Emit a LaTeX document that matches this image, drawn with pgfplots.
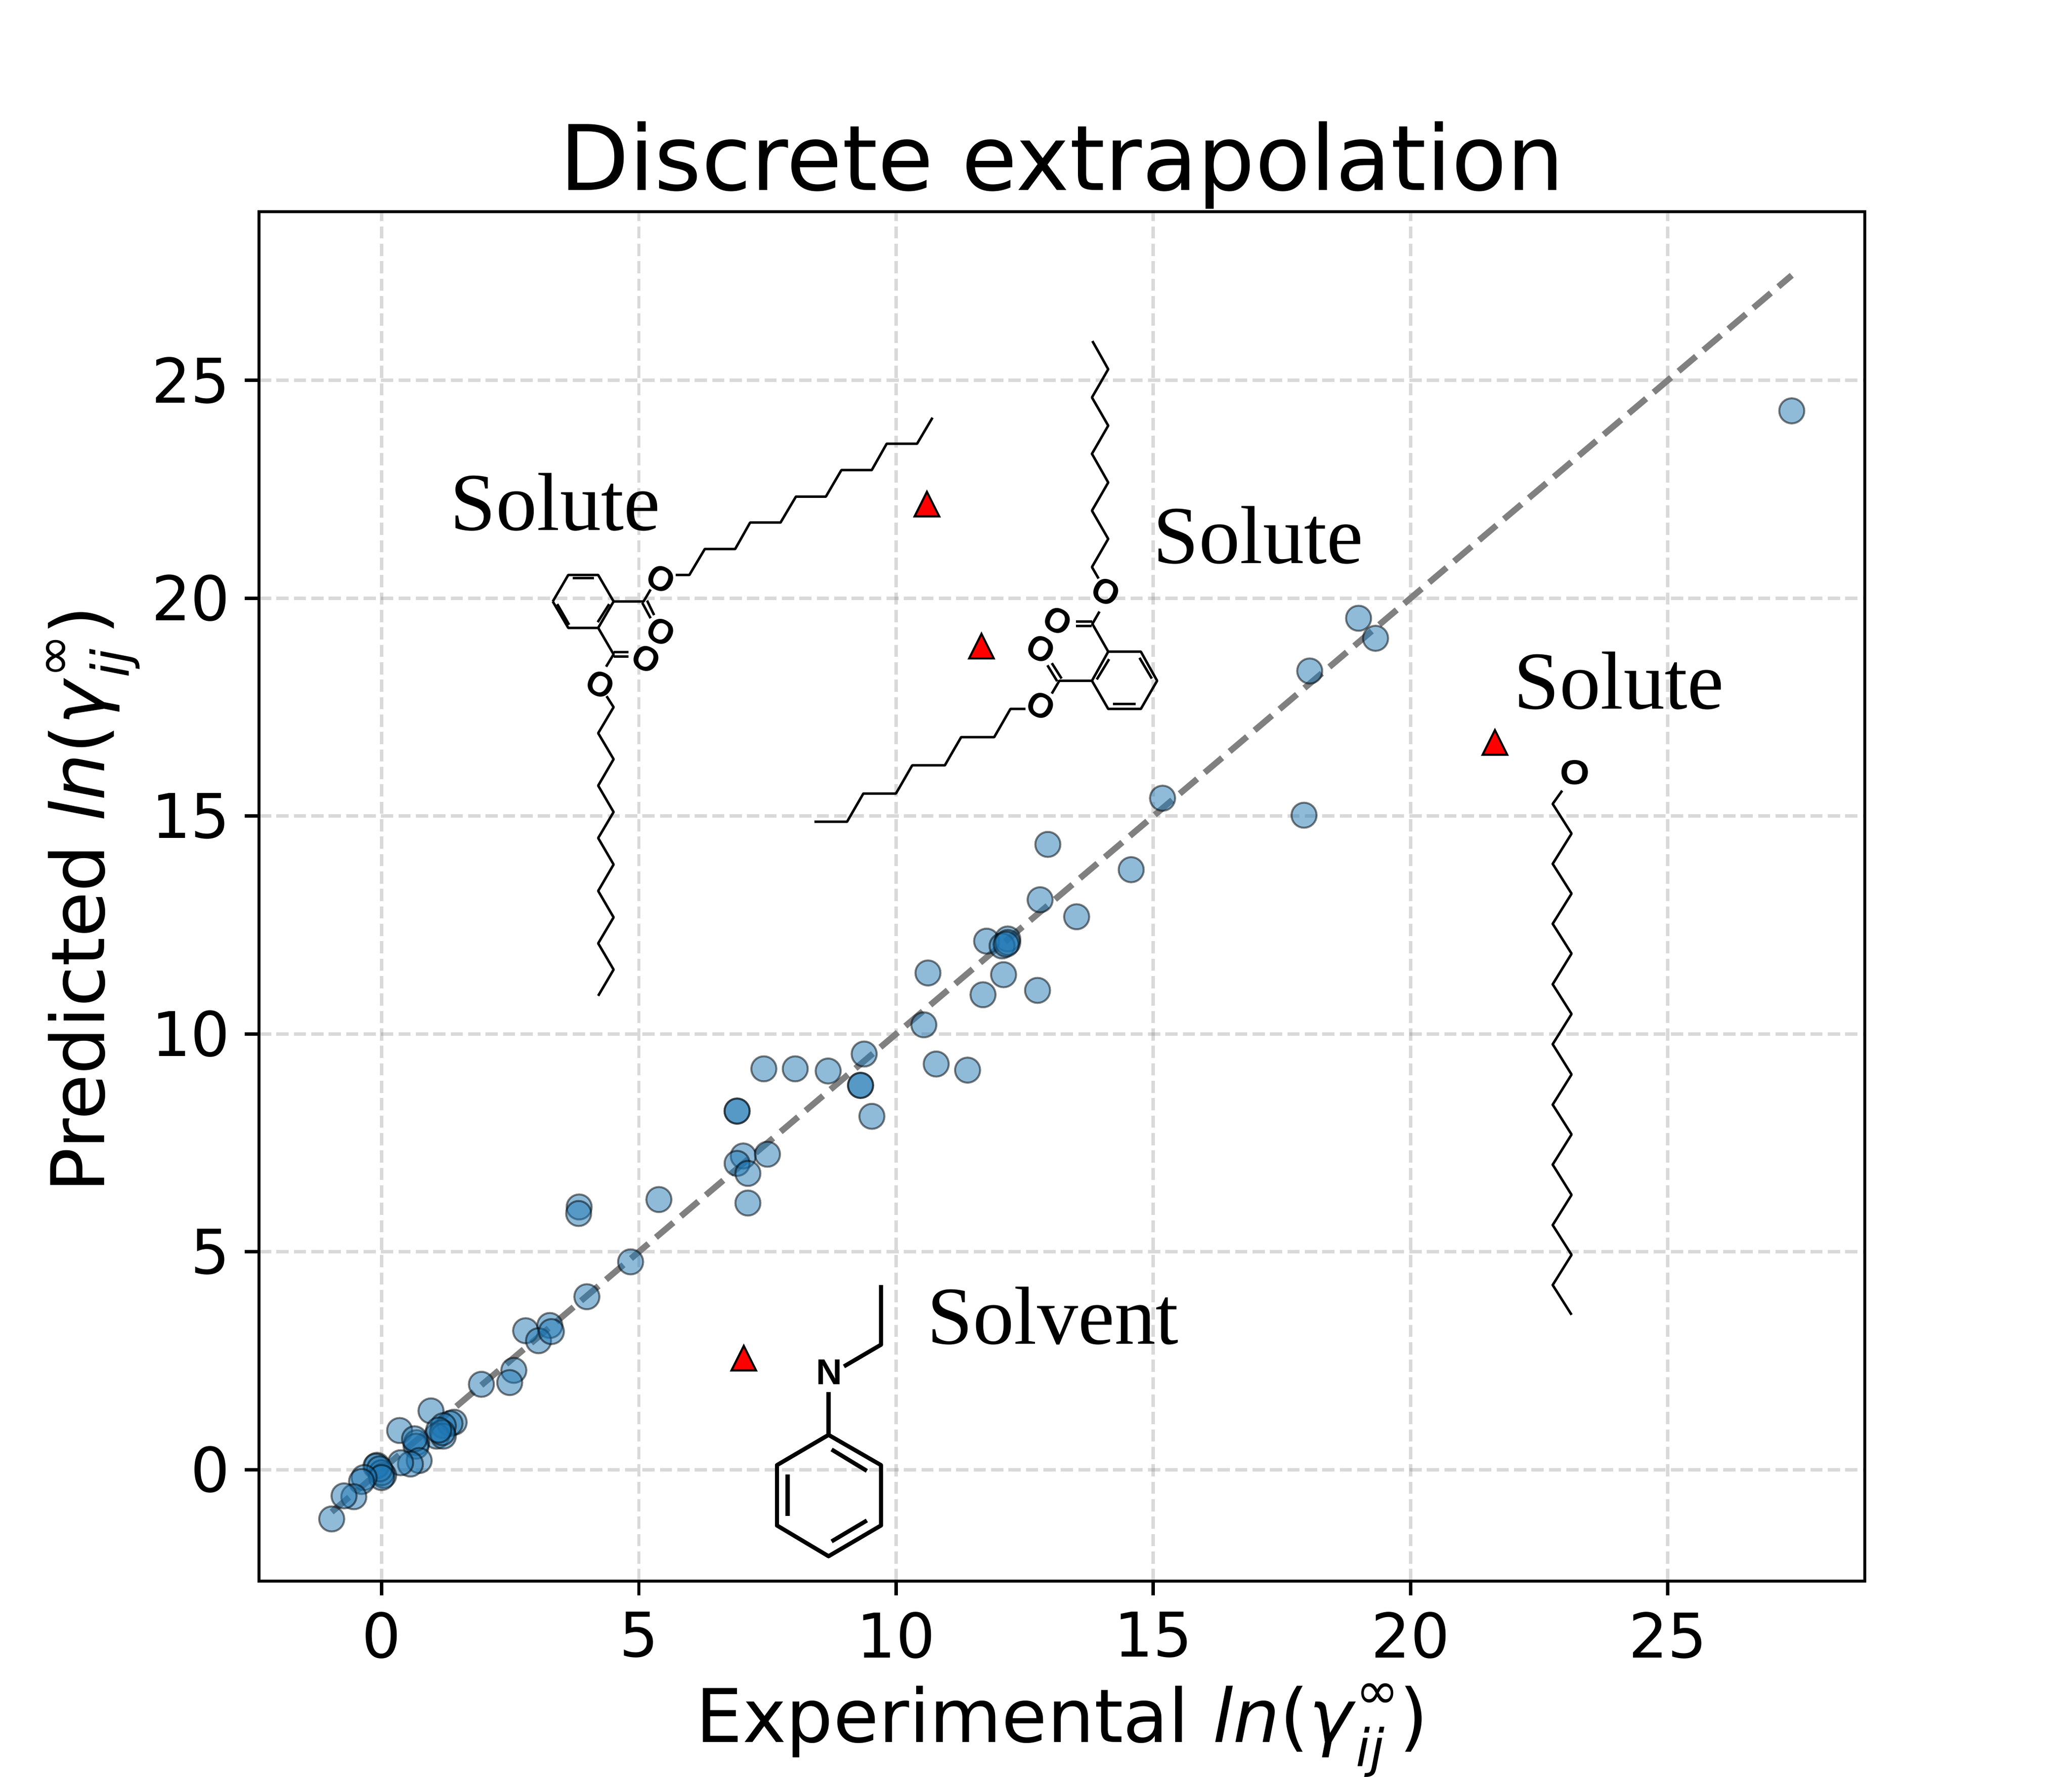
\documentclass[border=0pt]{standalone}
\usepackage{graphicx}
\usepackage{fontspec}
\setmainfont{DejaVu Sans}
\newfontfamily\timesf{Liberation Serif}
\newfontfamily\arialf{Liberation Sans}
\usepackage{pgfplots}
\pgfplotsset{compat=1.18}

\definecolor{tabblue}{HTML}{1F77B4}

% matplotlib's ^ marker: as wide as it is tall
\pgfdeclareplotmark{mpltri}{%
  \pgfpathmoveto{\pgfqpoint{0pt}{\pgfplotmarksize}}%
  \pgfpathlineto{\pgfqpoint{-\pgfplotmarksize}{-\pgfplotmarksize}}%
  \pgfpathlineto{\pgfqpoint{\pgfplotmarksize}{-\pgfplotmarksize}}%
  \pgfpathclose
  \pgfusepathqfillstroke}

\newcommand{\lngamma}{\textit{ln}(\textit{γ}\hbox to 0pt{\raisebox{-.33em}{\scalebox{.7}{\textit{ij}}}\hss}\raisebox{.45em}{\scalebox{.7}{∞}})}

\tikzset{
  mol/.style={black, line width=.6pt, line join=round},
  solv/.style={black, line width=1pt, line join=round},
  atom/.style={font=\fontsize{8.4}{8}\selectfont\arialf\bfseries, inner sep=0pt, rotate=-28},
  word/.style={font=\fontsize{20}{20}\selectfont\timesf, inner sep=0pt, anchor=base west},
}

\begin{document}
\begin{tikzpicture}
\useasboundingbox (0,0) rectangle (504pt,432pt);

\begin{axis}[
    at={(63pt,47.52pt)}, anchor=south west,
    scale only axis, width=390.6pt, height=333pt,
    xmin=-2.383, xmax=28.83, ymin=-2.556, ymax=28.87,
    xtick={0,5,...,25}, ytick={0,5,...,25},
    xtick pos=bottom, ytick pos=left,
    tick align=outside, major tick length=3.5pt,
    tick style={black, line width=.8pt},
    axis line style={line width=.8pt},
    grid=major,
    grid style={gray, opacity=.3, line width=.8pt, dash pattern=on 2.96pt off 1.28pt},
    /pgf/number format/assume math mode=true,
    tick label style={font=\fontsize{15}{15}\selectfont},
    xticklabel style={yshift=-.5pt},
    title={Discrete extrapolation},
    title style={font=\fontsize{22}{22}\selectfont, at={(axis description cs:.5,1.0155)}, anchor=base, yshift=-6pt},
    xlabel={Experimental \lngamma},
    xlabel style={font=\fontsize{18}{18}\selectfont, at={(axis description cs:.5,-.1175)}, anchor=base},
    ylabel={Predicted \lngamma},
    ylabel style={font=\fontsize{18}{18}\selectfont, at={(axis description cs:-.0962,.498)}, anchor=base},
]
% data points
\addplot[only marks, mark=*, mark size=3.05pt,
    mark options={fill=tabblue, draw=black, line width=.48pt, opacity=.5}]
coordinates {
 (27.41,24.30) (19.32,19.08) (18.99,19.54) (18.04,18.33) (17.93,15.02)
 (15.18,15.41) (14.57,13.77) (12.95,14.35) (13.51,12.69) (12.80,13.08)
 (11.76,12.13) (12.17,12.18) (12.06,12.02) (12.17,12.10) (12.14,12.06)
 (10.62,11.40) (12.09,11.36) (11.69,10.90) (12.75,11.00) (10.54,10.21)
 (9.38,9.54) (7.43,9.20) (8.04,9.20) (8.68,9.15) (10.78,9.31) (11.39,9.17)
 (9.31,8.82) (9.31,8.82) (9.53,8.11) (6.91,8.23) (6.91,8.23)
 (7.03,7.20) (7.50,7.24) (6.91,7.03) (7.12,6.80) (7.12,6.12)
 (3.84,6.03) (3.83,5.88) (5.39,6.20) (4.84,4.77) (3.99,3.97)
 (2.80,3.19) (3.27,3.31) (3.05,2.96) (3.30,3.17)
 (1.94,1.96) (2.57,2.28) (2.49,2.00)
 (0.96,1.35) (0.35,0.90) (1.41,1.09) (1.33,1.06) (1.20,1.01)
 (1.07,0.77) (1.20,0.77) (1.18,0.85) (1.11,0.91)
 (0.68,0.62) (0.67,0.54) (0.64,0.71) (0.73,0.21) (0.56,0.13) (0.37,0.16)
 (-0.09,0.10) (-0.11,0.08) (0.04,-0.13) (0.00,-0.07) (-0.04,0.02) (0.00,-0.18)
 (-0.34,-0.18) (-0.39,-0.27) (-0.54,-0.62) (-0.73,-0.60) (-0.97,-1.13)
};
% parity line
\addplot[gray, line width=1.5pt, dash pattern=on 5.55pt off 2.4pt] coordinates {(-0.97,-0.97) (27.41,27.41)};
% the four annotated outliers
\addplot[only marks, mark=mpltri, mark size=3pt,
    mark options={fill=red, draw=black, line width=.5pt}]
coordinates {(10.60,22.16) (11.66,18.90) (21.64,16.69) (7.04,2.56)};
\end{axis}

% molecule sketches, in pixels of the 4200x3600 figure
\begin{axis}[
    at={(63pt,47.52pt)}, anchor=south west,
    scale only axis, width=390.6pt, height=333pt,
    xmin=525, xmax=3780, ymin=429, ymax=3204, y dir=reverse,
    hide axis, clip=false,
]
% solute, upper left
\addplot[mol] coordinates {(1369.6,1165.2) (1397.3,1165.2) (1428.6,1112.5) (1490.2,1112.5) (1520.5,1058.9) (1582.1,1058.9) (1613.4,1006.3) (1674.1,1006.3) (1705.4,952.7) (1767,952.7) (1797.3,899.1) (1858.9,899.1) (1890.2,846.4)};
\addplot[mol] coordinates {(1120.5,1218.8) (1151.8,1165.2) (1212.5,1165.2) (1243.8,1218.8) (1212.5,1272.3) (1151.8,1272.3) (1120.5,1218.8)};
\addplot[mol] coordinates {(1160.7,1171.4) (1203.6,1171.4)};
\addplot[mol] coordinates {(1129.5,1224.1) (1153.6,1266)};
\addplot[mol] coordinates {(1234.8,1224.1) (1211.6,1260.7)};
\addplot[mol] coordinates {(1243.8,1218.8) (1304.5,1218.8) (1318.8,1194.6)};
\addplot[mol] coordinates {(1301.8,1221.4) (1318.8,1252.7)};
\addplot[mol] coordinates {(1311.6,1217) (1325.9,1246.4)};
\addplot[mol] coordinates {(1212.5,1272.3) (1243.8,1325.9) (1228.6,1350.9)};
\addplot[mol] coordinates {(1243.8,1321.4) (1274.1,1321.4)};
\addplot[mol] coordinates {(1243.8,1330.4) (1274.1,1330.4)};
\addplot[mol] coordinates {(1229.5,1410.7) (1243.8,1433) (1212.5,1485.7) (1243.8,1538.4) (1212.5,1592) (1243.8,1645.5) (1212.5,1698.2) (1243.8,1751.8) (1212.5,1805.4) (1243.8,1858.9) (1212.5,1911.6) (1243.8,1964.8) (1212.5,2017.9)};
\node[atom] at (axis cs:1340.2,1173.2) {O};
\node[atom] at (axis cs:1340.2,1280.4) {O};
\node[atom] at (axis cs:1309.8,1334.8) {O};
\node[atom] at (axis cs:1217,1386.6) {O};
\node[word] at (axis cs:911,1074) {Solute};

% solute, middle
\addplot[mol] coordinates {(2214.3,691.1) (2246.4,748.2) (2213.4,805.4) (2246.4,862.5) (2213.4,919.6) (2246.4,977.7) (2213.4,1034.8) (2246.4,1092) (2213.4,1149.1) (2226.8,1172.3)};
\addplot[mol] coordinates {(2228.6,1239.3) (2214.3,1264.3) (2246.4,1320.5)};
\addplot[mol] coordinates {(2181.3,1259.8) (2214.3,1259.8)};
\addplot[mol] coordinates {(2181.3,1268.8) (2212.5,1268.8)};
\addplot[mol] coordinates {(2246.4,1320.5) (2312.5,1320.5) (2345.5,1379.5) (2312.5,1436.6) (2246.4,1436.6) (2213.4,1379.5) (2246.4,1320.5)};
\addplot[mol] coordinates {(2309.8,1333) (2334.8,1375)};
\addplot[mol] coordinates {(2256.3,1426.8) (2301.8,1426.8)};
\addplot[mol] coordinates {(2223.2,1376.8) (2248.2,1335.7)};
\addplot[mol] coordinates {(2213.4,1379.5) (2147.3,1379.5) (2132.1,1405.4)};
\addplot[mol] coordinates {(2142.9,1380.4) (2123.2,1348.2)};
\addplot[mol] coordinates {(2151.8,1375) (2132.1,1343.8)};
\addplot[mol] coordinates {(2078.6,1436.6) (2048.2,1436.6) (2015.2,1493.8) (1948.2,1493.8) (1915.2,1550.9) (1849.1,1550.9) (1816.1,1608) (1750,1608) (1717,1665.2) (1650.9,1665.2)};
\node[atom] at (axis cs:2242,1199.1) {O};
\node[atom] at (axis cs:2143.8,1258) {O};
\node[atom] at (axis cs:2109.8,1315.2) {O};
\node[atom] at (axis cs:2109.8,1429.5) {O};
\node[word] at (axis cs:2336,1141) {Solute};

% solute, right
\addplot[mol] coordinates {(3166.5,1602.2) (3147.3,1629) (3185.6,1689.2) (3147.3,1750.5) (3185.6,1810.8) (3147.3,1872) (3185.6,1932.3) (3147.3,1994.5) (3185.6,2054.8) (3147.3,2116) (3185.6,2177.3) (3147.3,2238.5) (3185.6,2298.8) (3147.3,2360) (3185.6,2421.3) (3147.3,2482.5) (3185.6,2542.8) (3147.3,2604) (3185.6,2664.3)};
\node[atom, rotate=28, xscale=1.1] at (axis cs:3192.5,1565.8) {O};
\node[word] at (axis cs:3067,1436.6) {Solute};

% solvent
\addplot[solv] coordinates {(1785.7,2604) (1785.7,2725) (1710.7,2768.9)};
\addplot[solv] coordinates {(1679.5,2820.9) (1679.5,2907.7)};
\addplot[solv] coordinates {(1679.5,2907.7) (1785.7,2968.9) (1785.7,3091.3) (1679.5,3153.6) (1575,3091.3) (1575,2968.9) (1679.5,2907.7)};
\addplot[solv] coordinates {(1685.7,2937.3) (1757.1,2980.6)};
\addplot[solv] coordinates {(1596.4,2987.8) (1596.4,3072.4)};
\addplot[solv] coordinates {(1685.7,3123.5) (1757.1,3081.1)};
\node[font=\fontsize{8.75}{9}\selectfont\arialf\bfseries, inner sep=0pt] at (axis cs:1680.4,2780) {N};
\node[word] at (axis cs:1878,2723) {Solvent};
\end{axis}
\end{tikzpicture}
\end{document}
